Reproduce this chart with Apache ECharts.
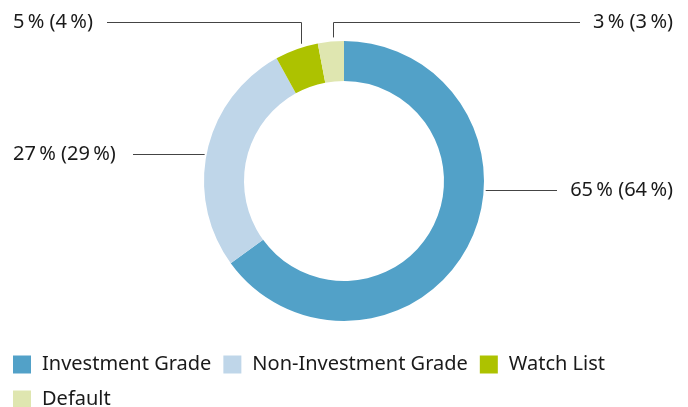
<!DOCTYPE html>
<html>
<head>
<meta charset="utf-8">
<script src="https://cdn.jsdelivr.net/npm/echarts@6/dist/echarts.min.js"></script>
<style>
  html, body { margin: 0; padding: 0; background: #fff; }
  #chart { width: 688px; height: 407px; }
</style>
</head>
<body>
<div id="chart"></div>
<script>
  // categories, clockwise from 12 o'clock
  var categories = ["Investment Grade", "Non-Investment Grade", "Watch List", "Default"];
  // share this year, and prior year in brackets
  var shareNow = [65, 27, 5, 3];
  var sharePrev = [64, 29, 4, 3];
  var colors = ["#52a1c8", "#bfd6e9", "#adc200", "#dfe6b0"];

  var cx = 344, cy = 181, rOut = 140, rIn = 100;
  var font = "Noto Sans";

  var pct = function (v) {
    return v + "\u2009%";
  };

  // where each label sits: side + line y, plus x of the vertical drop for the top ones
  var anchors = [
    {side: "right", y: 190},
    {side: "left", y: 154},
    {side: "left", y: 22, dropX: 301},
    {side: "right", y: 22, dropX: 333}
  ];

  var edgeX = function (y, side) {
    var dx = Math.sqrt(rOut * rOut - (y - cy) * (y - cy));
    return side == "right" ? cx + dx + 2 : cx - dx - 2;
  };
  var edgeY = function (x) {
    return cy - Math.sqrt(rOut * rOut - (x - cx) * (x - cx)) - 4;
  };

  var layout = function (params) {
    var a = anchors[params.dataIndex];
    var ly = a.y + 0.5; // keep 1px lines crisp
    var pts;
    if (a.dropX) {
      var endX = a.side == "right" ? 580 : 107;
      var lx = a.dropX + 0.5;
      pts = [[lx, edgeY(a.dropX)], [lx, ly], [endX, ly]];
    } else {
      var endX2 = a.side == "right" ? 557 : 133;
      pts = [[edgeX(a.y, a.side), ly], [endX2, ly]];
    }
    return {
      x: a.side == "right" ? 673 : 13,
      y: a.y,
      align: a.side == "right" ? "right" : "left",
      verticalAlign: "middle",
      labelLinePoints: pts
    };
  };

  var data = [];
  for (var i = 0; i < categories.length; i++) {
    data.push({name: categories[i], value: shareNow[i], itemStyle: {color: colors[i]}});
  }

  var chart = echarts.init(document.getElementById("chart"), null, {renderer: "canvas"});
  chart.setOption({
    animation: false,
    color: colors,
    legend: {
      data: categories,
      left: 13,
      right: 0,
      top: 353,
      padding: 0,
      orient: "horizontal",
      itemWidth: 18,
      itemHeight: 18,
      itemGap: 12,
      icon: "rect",
      textStyle: {
        fontFamily: font,
        fontSize: 20,
        color: "#1a1a1a",
        lineHeight: 23,
        padding: [0, 0, 0, 6]
      }
    },
    series: [{
      type: "pie",
      center: [cx, cy],
      radius: [rIn, rOut],
      startAngle: 90,
      clockwise: true,
      silent: true,
      data: data,
      itemStyle: {borderWidth: 0},
      label: {
        show: true,
        fontFamily: font,
        fontSize: 20,
        color: "#1a1a1a",
        formatter: function (p) {
          return pct(shareNow[p.dataIndex]) + " (" + pct(sharePrev[p.dataIndex]) + ")";
        }
      },
      labelLine: {
        show: true,
        lineStyle: {color: "#444", width: 1}
      },
      labelLayout: layout
    }]
  });
</script>
</body>
</html>
